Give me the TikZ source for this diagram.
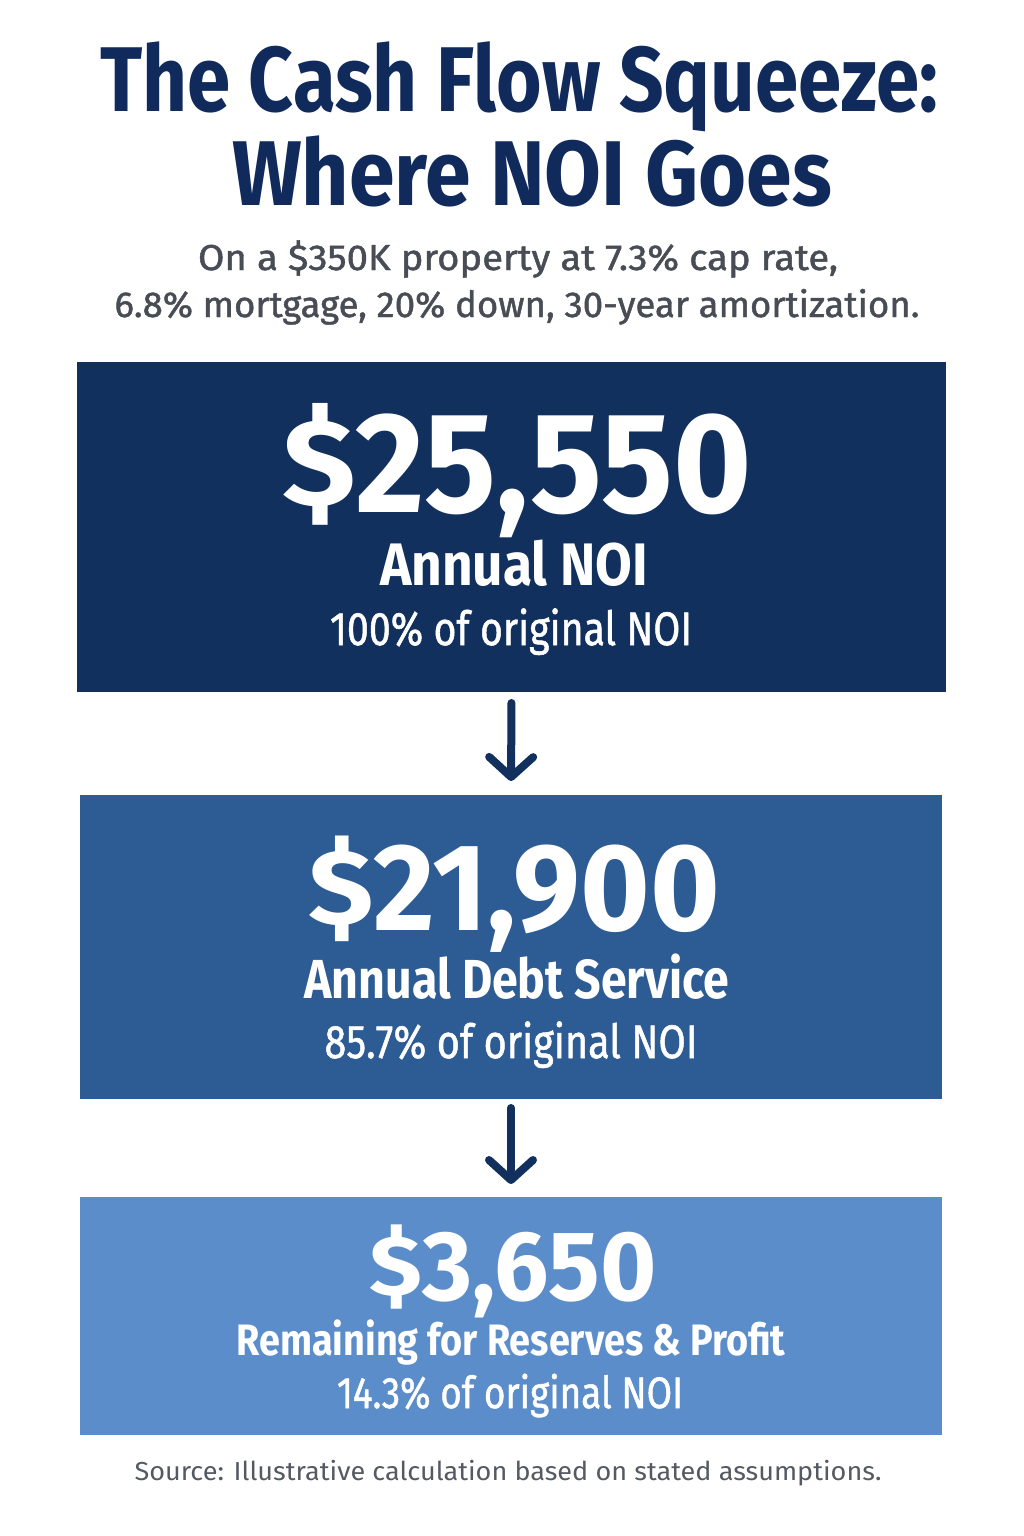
\documentclass[tikz,border=0pt]{standalone}
\usepackage{graphicx}
\usepackage{fontspec}
\setmainfont{Fira Sans}
\newfontfamily\medf{Fira Sans}[FakeBold=1.2]
\usetikzlibrary{arrows.meta}
\definecolor{titlec}{HTML}{102A5C}
\definecolor{subc}{HTML}{484D55}
\definecolor{srcc}{HTML}{555A62}
\definecolor{boxa}{HTML}{11305E}
\definecolor{boxb}{HTML}{2D5B93}
\definecolor{boxc}{HTML}{5B8DCA}
\definecolor{arrc}{HTML}{12305E}
\newsavebox\fitbox
\newcommand\fitw[2]{\sbox\fitbox{#2}\pgfmathsetmacro\fitr{#1/\the\wd\fitbox}\scalebox{\fitr}[1]{\usebox\fitbox}}
\newcommand\bigdollar{\raisebox{0.045em}{\scalebox{1}[0.86]{\$}}}
\tikzset{
  txt/.style={anchor=base, inner sep=0pt, outer sep=0pt},
  panel/.style={draw=none, inner sep=0pt, outer sep=0pt, rectangle},
  flowarrow/.style={draw=arrc, line width=8pt, line cap=round, line join=round,
    -{Straight Barb[length=20pt,width=44pt,line width=8pt,round]}}
}
\begin{document}
\begin{tikzpicture}[x=1pt,y=-1pt]
\useasboundingbox (0,0) rectangle (1024,1536);
\fill[white] (0,0) rectangle (1024,1536);
% title
\node[txt, text=titlec] (t1) at (519,112) {\fitw{838}{\fontsize{92}{92}\selectfont\bfseries The Cash Flow Squeeze:}};
\node[txt, text=titlec] (t2) at (532,205) {\fitw{600}{\fontsize{92}{92}\selectfont\bfseries Where NOI Goes}};
\node[txt, text=subc] (s1) at (518,270) {\fitw{640}{\fontsize{36}{36}\selectfont\medf On a \$350K property at 7.3\% cap rate,}};
\node[txt, text=subc] (s2) at (517,317) {\fitw{805}{\fontsize{36}{36}\selectfont\medf 6.8\% mortgage, 20\% down, 30-year amortization.}};
% panels
\node[panel, fill=boxa, minimum width=869, minimum height=330] (b1) at (511.5,527) {};
\node[panel, fill=boxb, minimum width=862, minimum height=304] (b2) at (511,947) {};
\node[panel, fill=boxc, minimum width=862, minimum height=238] (b3) at (511,1316) {};
% panel 1 text
\node[txt, text=white] (v1) at (517,512) {\fitw{470}{\fontsize{143}{143}\selectfont\bfseries \bigdollar25,550}};
\node[txt, text=white] (l1) at (514,585) {\fitw{268}{\fontsize{60}{60}\selectfont\bfseries Annual NOI}};
\node[txt, text=white] (p1) at (511,645) {\fitw{362}{\fontsize{47}{47}\selectfont\medf 100\% of original NOI}};
% panel 2 text
\node[txt, text=white] (v2) at (514,930) {\fitw{412}{\fontsize{124}{124}\selectfont\bfseries \bigdollar21,900}};
\node[txt, text=white] (l2) at (517,998) {\fitw{425}{\fontsize{55}{55}\selectfont\bfseries Annual Debt Service}};
\node[txt, text=white] (p2) at (511,1058) {\fitw{373}{\fontsize{47}{47}\selectfont\medf 85.7\% of original NOI}};
% panel 3 text
\node[txt, text=white] (v3) at (513,1300) {\fitw{287}{\fontsize{99}{99}\selectfont\bfseries \bigdollar3,650}};
\node[txt, text=white] (l3) at (511,1355) {\fitw{549}{\fontsize{44}{44}\selectfont\bfseries Remaining for Reserves \& Profit}};
\node[txt, text=white] (p3) at (510,1408) {\fitw{346}{\fontsize{44}{44}\selectfont\medf 14.3\% of original NOI}};
% source
\node[txt, text=srcc] (src) at (508,1480) {\fitw{747}{\fontsize{26}{26}\selectfont Source: Illustrative calculation based on stated assumptions.}};
% arrows
\draw[flowarrow, shorten <=11pt, shorten >=14pt] (b1.south) -- (b2.north);
\draw[flowarrow, shorten <=9pt, shorten >=13pt] (b2.south) -- (b3.north);
\end{tikzpicture}
\end{document}
